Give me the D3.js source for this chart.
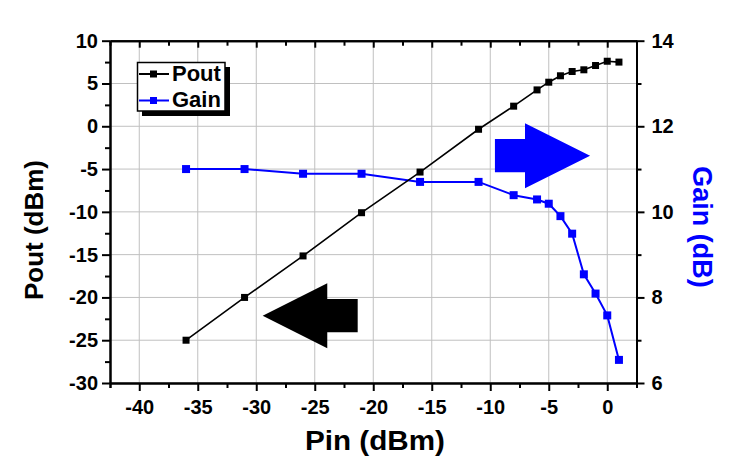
<!DOCTYPE html>
<html><head><meta charset="utf-8">
<script src="https://cdn.jsdelivr.net/npm/d3@7"></script>
<style>
html,body{margin:0;padding:0;background:#fff;}
text{font-family:"Liberation Sans",Arial,sans-serif;font-weight:bold;}
</style></head>
<body>
<svg id="chart" width="737" height="471"></svg>
<script>
// ---- data ----
const pin = [-36, -31, -26, -21, -16, -11, -8, -6, -5, -4, -3, -2, -1, 0, 1];
const pout = [-25, -20, -15.15, -10.1, -5.35, -0.35, 2.35, 4.25, 5.15, 5.9, 6.4, 6.6, 7.1, 7.6, 7.5];
const gain = [11.0, 11.0, 10.89, 10.89, 10.7, 10.7, 10.39, 10.29, 10.19, 9.9, 9.49, 8.54, 8.09, 7.58, 6.54];
const xTicks = [-40, -35, -30, -25, -20, -15, -10, -5, 0];
const yLeftTicks = [-30, -25, -20, -15, -10, -5, 0, 5, 10];
const yRightTicks = [6, 8, 10, 12, 14];
const seriesNames = ["Pout", "Gain"];
// arrow annotations in data units (Pin, Pout)
const leftArrow = [[-29.45,-22.14],[-23.93,-18.35],[-23.93,-20.18],[-21.33,-20.18],[-21.33,-24.08],[-23.93,-24.08],[-23.93,-25.94]];
const rightArrow = [[-1.47,-3.44],[-7.03,0.35],[-7.03,-1.49],[-9.6,-1.49],[-9.6,-5.38],[-7.03,-5.38],[-7.03,-7.25]];

const svg = d3.select("#chart");
const X0 = 110, X1 = 636.5, Y0 = 40.7, Y1 = 383;
const x = d3.scaleLinear().domain([-42.5, 2.5]).range([X0, X1]);
const yL = d3.scaleLinear().domain([-30, 10]).range([Y1, Y0]);
const yR = d3.scaleLinear().domain([6, 14]).range([Y1, Y0]);
const fs = 20;
const fmt = d => String(d);

// grid
const grid = svg.append("g").attr("stroke", "#c0c0c0").attr("stroke-width", 1);
xTicks.forEach(t => grid.append("line").attr("x1", x(t)).attr("x2", x(t)).attr("y1", Y0).attr("y2", Y1));
yLeftTicks.forEach(t => grid.append("line").attr("x1", X0).attr("x2", X1).attr("y1", yL(t)).attr("y2", yL(t)));

// minor tick values
const xMinor = d3.range(-42.5, 2.6, 2.5).filter(v => !xTicks.includes(v));
const yMinor = d3.range(-27.5, 10, 5);
const yRMinor = [7, 9, 11, 13];

function styleAxis(g) {
  g.selectAll("path.domain").attr("stroke", "#000").attr("stroke-width", 2);
  g.selectAll(".tick line").attr("stroke", "#000").attr("stroke-width", 2);
  g.selectAll("text").attr("fill", "#000").attr("font-size", fs).attr("font-family", "'Liberation Sans', Arial, sans-serif").attr("font-weight", "bold");
}

// bottom
const gb = svg.append("g").attr("transform", `translate(0,${Y1})`)
  .call(d3.axisBottom(x).tickValues(xTicks).tickSize(8).tickSizeOuter(0).tickPadding(9).tickFormat(fmt));
styleAxis(gb);
const gbm = svg.append("g").attr("transform", `translate(0,${Y1})`)
  .call(d3.axisBottom(x).tickValues(xMinor).tickSize(5).tickFormat(""));
styleAxis(gbm);
// top
const gt = svg.append("g").attr("transform", `translate(0,${Y0})`)
  .call(d3.axisBottom(x).tickValues(xTicks).tickSize(7).tickSizeOuter(0).tickFormat(""));
styleAxis(gt);
const gtm = svg.append("g").attr("transform", `translate(0,${Y0})`)
  .call(d3.axisBottom(x).tickValues(xMinor).tickSize(5).tickSizeOuter(0).tickFormat(""));
styleAxis(gtm);
// left
const gl = svg.append("g").attr("transform", `translate(${X0},0)`)
  .call(d3.axisLeft(yL).tickValues(yLeftTicks).tickSize(8).tickSizeOuter(0).tickPadding(4).tickFormat(fmt));
styleAxis(gl);
const glm = svg.append("g").attr("transform", `translate(${X0},0)`)
  .call(d3.axisLeft(yL).tickValues(yMinor).tickSize(5).tickSizeOuter(0).tickFormat(""));
styleAxis(glm);
// right
const gr = svg.append("g").attr("transform", `translate(${X1},0)`)
  .call(d3.axisRight(yR).tickValues(yRightTicks).tickSize(8).tickSizeOuter(0).tickPadding(7).tickFormat(fmt));
styleAxis(gr);
const grm = svg.append("g").attr("transform", `translate(${X1},0)`)
  .call(d3.axisRight(yR).tickValues(yRMinor).tickSize(5).tickSizeOuter(0).tickFormat(""));
styleAxis(grm);

// arrows
const arrowLine = d3.line().x(d => x(d[0])).y(d => yL(d[1])).curve(d3.curveLinearClosed);
svg.append("path").attr("d", arrowLine(leftArrow)).attr("fill", "#000");
svg.append("path").attr("d", arrowLine(rightArrow)).attr("fill", "#0000ff");

// series
const pts = pin.map((p, i) => ({p, o: pout[i], g: gain[i]}));
svg.append("path").datum(pts).attr("fill", "none").attr("stroke", "#0000ff").attr("stroke-width", 2)
  .attr("d", d3.line().x(d => x(d.p)).y(d => yR(d.g)));
svg.append("path").datum(pts).attr("fill", "none").attr("stroke", "#000").attr("stroke-width", 1.6)
  .attr("d", d3.line().x(d => x(d.p)).y(d => yL(d.o)));
svg.append("g").selectAll("rect").data(pts).join("rect")
  .attr("x", d => x(d.p) - 4).attr("y", d => yR(d.g) - 4).attr("width", 8).attr("height", 8).attr("fill", "#0000ff");
svg.append("g").selectAll("rect").data(pts).join("rect")
  .attr("x", d => x(d.p) - 3.5).attr("y", d => yL(d.o) - 3.5).attr("width", 7).attr("height", 7).attr("fill", "#000");

// legend
const lg = svg.append("g");
lg.append("rect").attr("x", 142).attr("y", 67).attr("width", 88).attr("height", 49).attr("fill", "#000");
lg.append("rect").attr("x", 137.5).attr("y", 62.5).attr("width", 87.5).attr("height", 48.5).attr("fill", "#fff").attr("stroke", "#000").attr("stroke-width", 1.5);
const legColors = ["#000", "#0000ff"];
seriesNames.forEach((n, i) => {
  const cy = 74 + i * 26.5;
  lg.append("line").attr("x1", 139).attr("x2", 169).attr("y1", cy).attr("y2", cy).attr("stroke", legColors[i]).attr("stroke-width", 2);
  lg.append("rect").attr("x", 150).attr("y", cy - 3.5).attr("width", 7).attr("height", 7).attr("fill", legColors[i]);
  lg.append("text").attr("x", 172).attr("y", cy + 6.5).attr("font-size", 22).attr("fill", "#000").text(n);
});

// axis titles
svg.append("text").attr("x", 375).attr("y", 450).attr("text-anchor", "middle").attr("font-size", 27)
  .attr("textLength", 140).attr("lengthAdjust", "spacingAndGlyphs").attr("fill", "#000").text("Pin (dBm)");
svg.append("text").attr("transform", "translate(43,230) rotate(-90)").attr("text-anchor", "middle").attr("font-size", 26).attr("fill", "#000").text("Pout (dBm)");
svg.append("text").attr("transform", "translate(693,227) rotate(90)").attr("text-anchor", "middle").attr("font-size", 27).attr("fill", "#0000ff").text("Gain (dB)");
</script>
</body></html>
